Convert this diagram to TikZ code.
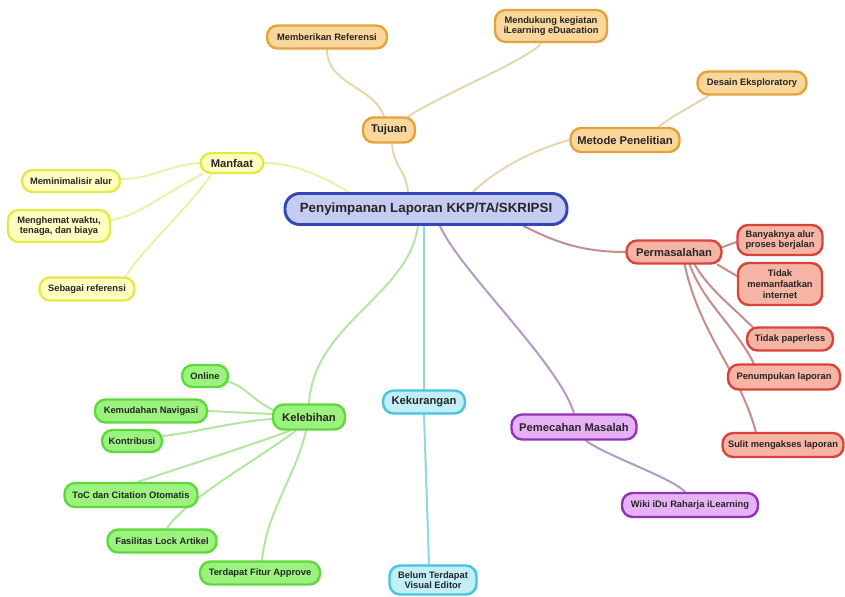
\documentclass[tikz,border=0pt]{standalone}
\usepackage{fontspec}
\setmainfont{Liberation Sans}
\usetikzlibrary{calc,backgrounds}
\definecolor{orgF}{HTML}{F9D69C}\definecolor{orgD}{HTML}{E3A33A}\definecolor{orgL}{HTML}{E6D6B0}
\definecolor{ylwF}{HTML}{FDFDC0}\definecolor{ylwD}{HTML}{E2EA48}\definecolor{ylwL}{HTML}{ECF0A8}
\definecolor{redF}{HTML}{F5B4A4}\definecolor{redD}{HTML}{D8443C}\definecolor{redL}{HTML}{C78C8C}
\definecolor{grnF}{HTML}{9CF27E}\definecolor{grnD}{HTML}{5FD83C}\definecolor{grnL}{HTML}{B4E6A2}
\definecolor{cyaF}{HTML}{C2EEF8}\definecolor{cyaD}{HTML}{45C6DA}\definecolor{cyaL}{HTML}{8FD8E2}
\definecolor{purF}{HTML}{E7B2F5}\definecolor{purD}{HTML}{9134B3}\definecolor{purL}{HTML}{B39AC6}
\definecolor{bluF}{HTML}{C5CCF2}\definecolor{bluD}{HTML}{3446B5}
\begin{document}
\begin{tikzpicture}[x=0.75pt,y=-0.75pt,
  box/.style={draw, line width=1.8pt, rounded corners=8pt, align=center, inner sep=2pt,
    text=black!85, font=\bfseries\fontsize{7}{8}\selectfont},
  lvl/.style={font=\bfseries\fontsize{8.4}{10}\selectfont},
  sz/.style 2 args={minimum width=#1*0.75pt, minimum height=#2*0.75pt},
  orgbox/.style={box, fill=orgF, draw=orgD},
  ylwbox/.style={box, fill=ylwF, draw=ylwD},
  redbox/.style={box, fill=redF, draw=redD},
  grnbox/.style={box, fill=grnF, draw=grnD},
  cyabox/.style={box, fill=cyaF, draw=cyaD},
  purbox/.style={box, fill=purF, draw=purD},
  blubox/.style={box, fill=bluF, draw=bluD, line width=2.2pt, rounded corners=11pt,
    font=\bfseries\fontsize{10}{12}\selectfont},
  link/.style={line width=1.5pt, line cap=round},
  orglink/.style={link, draw=orgL},
  ylwlink/.style={link, draw=ylwL},
  redlink/.style={link, draw=redL},
  grnlink/.style={link, draw=grnL},
  cyalink/.style={link, draw=cyaL},
  purlink/.style={link, draw=purL}]
\useasboundingbox (0,0) rectangle (845,596);

\node[blubox, sz={282}{31}] (central) at (426,209) {Penyimpanan Laporan KKP/TA/SKRIPSI};

\node[orgbox, lvl, sz={52}{25}] (tujuan) at (389,130) {Tujuan};
\node[orgbox, sz={120}{23}] (memberikan) at (327,37) {Memberikan Referensi};
\node[orgbox, sz={112}{32}] (mendukung) at (551,26) {Mendukung kegiatan\\iLearning eDuacation};
\node[orgbox, lvl, sz={109}{24}] (metode) at (625,140) {Metode Penelitian};
\node[orgbox, sz={109}{23}] (desain) at (752,83) {Desain Eksploratory};

\node[ylwbox, lvl, sz={63}{20}] (manfaat) at (232,163) {Manfaat};
\node[ylwbox, sz={98}{22}] (minim) at (71,181) {Meminimalisir alur};
\node[ylwbox, sz={102}{32}] (hemat) at (59,226) {Menghemat waktu,\\tenaga, dan biaya};
\node[ylwbox, sz={95}{23}] (sebagai) at (87,289) {Sebagai referensi};

\node[redbox, lvl, sz={95}{23}] (masalah) at (674,252) {Permasalahan};
\node[redbox, sz={85}{30}] (banyak) at (780,240) {Banyaknya alur\\proses berjalan};
\node[redbox, sz={84}{42}] (tidakm) at (780,284) {Tidak\\memanfaatkan\\internet};
\node[redbox, sz={86}{23}] (paperless) at (790,339) {Tidak paperless};
\node[redbox, sz={112}{25}] (tumpuk) at (784,377) {Penumpukan laporan};
\node[redbox, sz={121}{24}] (sulit) at (783,445) {Sulit mengakses laporan};

\node[grnbox, lvl, sz={72}{25}] (lebih) at (309,417) {Kelebihan};
\node[grnbox, sz={46}{22}] (online) at (205,376) {Online};
\node[grnbox, sz={112}{23}] (navig) at (151,411) {Kemudahan Navigasi};
\node[grnbox, sz={60}{22}] (kontri) at (132,441) {Kontribusi};
\node[grnbox, sz={133}{24}] (toc) at (131,495) {ToC dan Citation Otomatis};
\node[grnbox, sz={109}{23}] (lock) at (162,541) {Fasilitas Lock Artikel};
\node[grnbox, sz={120}{23}] (approve) at (260,573) {Terdapat Fitur Approve};

\node[cyabox, lvl, sz={82}{23}] (kurang) at (424,402) {Kekurangan};
\node[cyabox, sz={87}{29}] (belum) at (433,580) {Belum Terdapat\\Visual Editor};

\node[purbox, lvl, sz={125}{25}] (pemecahan) at (574,427) {Pemecahan Masalah};
\node[purbox, sz={136}{24}] (wiki) at (690,505) {Wiki iDu Raharja iLearning};

\begin{scope}[on background layer]
% from central
\draw[orglink] ($(central.north)+(-18,0)$) .. controls +(-3,-25) and +(2,25) .. ($(tujuan.south)+(3,0)$);
\draw[orglink] ($(central.north)+(47,0)$) .. controls +(25,-25) and +(-30,8) .. (metode.west);
\draw[ylwlink] ($(central.north west)+(65,0)$) .. controls +(-25,-15) and +(30,0) .. (manfaat.east);
\draw[redlink] ($(central.south east)+(-45,0)$) .. controls +(30,15) and +(-45,0) .. (masalah.west);
\draw[grnlink] ($(central.south)+(-8,0)$) .. controls +(-10,70) and +(5,-80) .. (lebih.north);
\draw[cyalink] ($(central.south)+(-2,0)$) -- (kurang.north);
\draw[purlink] ($(central.south)+(14,0)$) .. controls +(20,45) and +(-15,-50) .. (pemecahan.north);
% tujuan
\draw[orglink] ($(tujuan.north)+(-5,0)$) .. controls +(-10,-30) and +(0,35) .. (memberikan.south);
\draw[orglink] ($(tujuan.north east)+(-8,0)$) .. controls +(40,-25) and +(-10,15) .. ($(mendukung.south)+(-10,0)$);
% metode
\draw[orglink] ($(metode.north east)+(-22,0)$) .. controls +(15,-12) and +(-15,10) .. ($(desain.south west)+(12,0)$);
% manfaat
\draw[ylwlink] (manfaat.west) .. controls +(-30,2) and +(30,0) .. ($(minim.east)+(0,-2)$);
\draw[ylwlink] ($(manfaat.south west)+(3,0)$) .. controls +(-40,20) and +(30,-5) .. ($(hemat.east)+(0,-6)$);
\draw[ylwlink] ($(manfaat.south west)+(12,0)$) .. controls +(-15,25) and +(15,-25) .. ($(sebagai.north east)+(-10,0)$);
% permasalahan
\draw[redlink] ($(masalah.east)+(0,-5)$) -- ($(banyak.west)+(0,2)$);
\draw[redlink] ($(masalah.south east)+(-5,0)$) .. controls +(10,5) and +(-10,-5) .. ($(tidakm.west)+(0,-8)$);
\draw[redlink] ($(masalah.south east)+(-28,0)$) .. controls +(15,25) and +(-25,-25) .. ($(paperless.north west)+(8,2)$);
\draw[redlink] ($(masalah.south east)+(-33,0)$) .. controls +(15,40) and +(-20,-40) .. ($(tumpuk.north west)+(28,2)$);
\draw[redlink] ($(masalah.south east)+(-38,0)$) .. controls +(15,70) and +(-15,-60) .. ($(sulit.north west)+(35,2)$);
% kelebihan
\draw[grnlink] ($(lebih.west)+(2,-7)$) .. controls +(-20,-8) and +(20,5) .. ($(online.east)+(-3,5)$);
\draw[grnlink] ($(lebih.west)+(0,-3)$) -- (navig.east);
\draw[grnlink] ($(lebih.west)+(0,2)$) .. controls +(-40,3) and +(40,-5) .. ($(kontri.east)+(0,-5)$);
\draw[grnlink] ($(lebih.south west)+(18,0)$) .. controls +(-40,15) and +(30,-10) .. ($(toc.north)+(7,0)$);
\draw[grnlink] ($(lebih.south west)+(24,0)$) .. controls +(-40,30) and +(20,-30) .. ($(lock.north)+(5,0)$);
\draw[grnlink] ($(lebih.south)+(-3,0)$) .. controls +(-10,45) and +(5,-50) .. ($(approve.north)+(2,0)$);
% kekurangan
\draw[cyalink] (kurang.south) -- ($(belum.north)+(-4,0)$);
% pemecahan
\draw[purlink] ($(pemecahan.south)+(12,0)$) .. controls +(20,15) and +(-15,-15) .. ($(wiki.north)+(-5,0)$);
\end{scope}
\end{tikzpicture}
\end{document}
